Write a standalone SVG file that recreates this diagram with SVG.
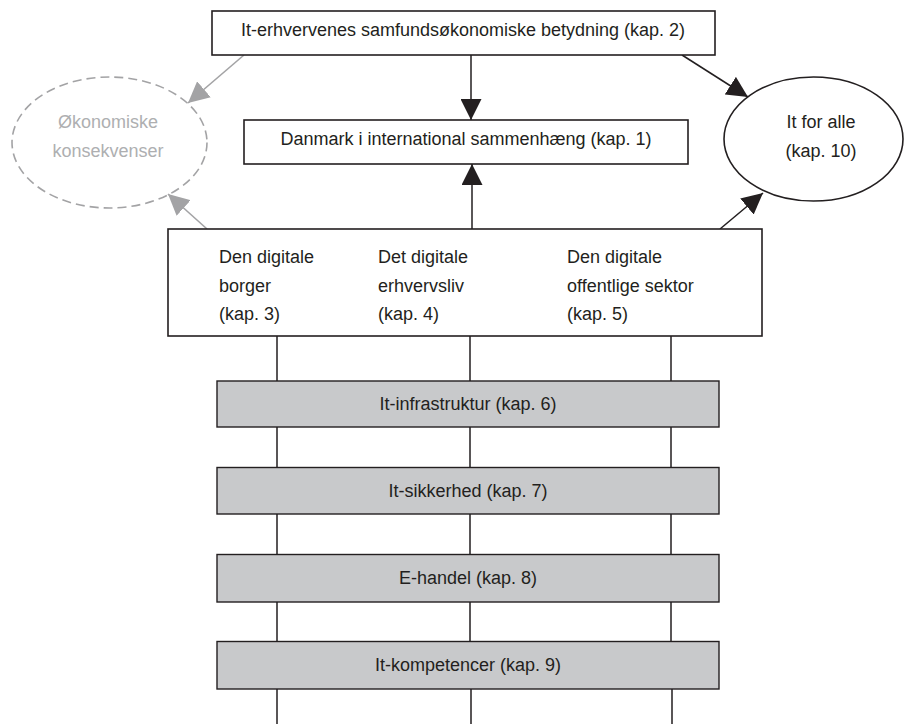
<svg xmlns="http://www.w3.org/2000/svg" width="907" height="724" viewBox="0 0 907 724">
<style>
text{font-family:"Liberation Sans",Arial,sans-serif;font-size:18px;fill:#231f20}
.c{text-anchor:middle}
.box{fill:#fff;stroke:#231f20;stroke-width:1.6}
.gbox{fill:#c8c9cb;stroke:#231f20;stroke-width:1.4}
.ln{stroke:#231f20;stroke-width:1.5;fill:none}
.gl{stroke:#a3a3a5;stroke-width:1.6;fill:none}
.gt{fill:#aeafb1}
</style>
<defs>
<marker id="ab" markerUnits="userSpaceOnUse" markerWidth="21" markerHeight="21" refX="20" refY="10" orient="auto" viewBox="0 0 20 20">
<path d="M0,0 L20,10 L0,20 z" fill="#231f20"/>
</marker>
<marker id="ag" markerUnits="userSpaceOnUse" markerWidth="21" markerHeight="21" refX="20" refY="10" orient="auto" viewBox="0 0 20 20">
<path d="M0,0 L20,10 L0,20 z" fill="#a3a3a5"/>
</marker>
</defs>
<rect width="907" height="724" fill="#fff"/>
<g id="connectors">
<line class="ln" x1="471" y1="55" x2="471" y2="120" marker-end="url(#ab)"/>
<line class="ln" x1="472" y1="229" x2="472" y2="164" marker-end="url(#ab)"/>
<line class="ln" x1="682" y1="55" x2="748" y2="97" marker-end="url(#ab)"/>
<line class="ln" x1="720" y1="229" x2="763" y2="193" marker-end="url(#ab)"/>
<line class="gl" x1="244" y1="55" x2="188" y2="103" marker-end="url(#ag)"/>
<line class="gl" x1="207" y1="229" x2="168" y2="194" marker-end="url(#ag)"/>
<path class="ln" d="M277,336V381M277,427V467M277,514V554M277,602V641M277,689V724"/>
<path class="ln" d="M470,336V381M470,427V467M470,514V554M470,602V641M471,689V724"/>
<path class="ln" d="M671,336V381M671,427V467M671,514V554M671,602V641M672,689V724"/>
</g>
<g id="n-top">
<rect class="box" x="212" y="11" width="503" height="44"/>
<text class="c" x="463" y="36">It-erhvervenes samfundsøkonomiske betydning (kap. 2)</text>
</g>
<g id="n-danmark">
<rect class="box" x="244" y="120" width="444" height="44"/>
<text class="c" x="466" y="145">Danmark i international sammenhæng (kap. 1)</text>
</g>
<g id="n-oekonomiske">
<ellipse cx="109.5" cy="142.5" rx="97.5" ry="65.5" class="gl" stroke-dasharray="9 5"/>
<text class="c gt" x="108" y="128">Økonomiske</text>
<text class="c gt" x="108" y="157">konsekvenser</text>
</g>
<g id="n-itforalle">
<ellipse cx="813.5" cy="139" rx="89.5" ry="62" class="box"/>
<text class="c" x="821" y="128">It for alle</text>
<text class="c" x="821" y="157">(kap. 10)</text>
</g>
<g id="n-digital">
<rect class="box" x="168" y="229" width="594" height="107"/>
<text x="219" y="263">Den digitale</text>
<text x="219" y="292">borger</text>
<text x="219" y="320">(kap. 3)</text>
<text x="378" y="263">Det digitale</text>
<text x="378" y="292">erhvervsliv</text>
<text x="378" y="320">(kap. 4)</text>
<text x="567" y="263">Den digitale</text>
<text x="567" y="292">offentlige sektor</text>
<text x="567" y="320">(kap. 5)</text>
</g>
<g id="n-infra">
<rect class="gbox" x="217" y="381" width="502" height="46"/>
<text class="c" x="468" y="410">It-infrastruktur (kap. 6)</text>
</g>
<g id="n-sikkerhed">
<rect class="gbox" x="217" y="467.5" width="502" height="46.5"/>
<text class="c" x="468" y="497">It-sikkerhed (kap. 7)</text>
</g>
<g id="n-ehandel">
<rect class="gbox" x="217" y="554.5" width="502" height="47.5"/>
<text class="c" x="468" y="584">E-handel (kap. 8)</text>
</g>
<g id="n-kompetencer">
<rect class="gbox" x="217" y="641.5" width="502" height="47.5"/>
<text class="c" x="468" y="671">It-kompetencer (kap. 9)</text>
</g>
</svg>
